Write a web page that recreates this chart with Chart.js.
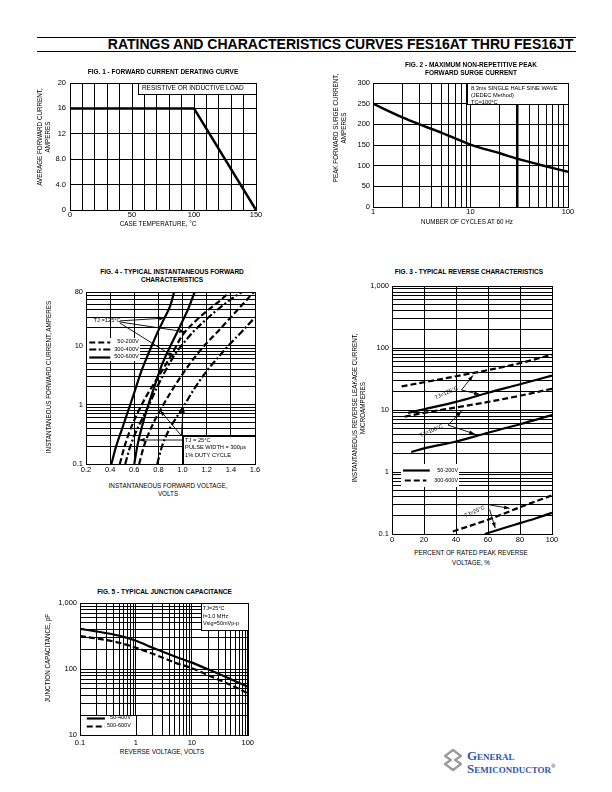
<!DOCTYPE html>
<html><head><meta charset="utf-8">
<script src="https://cdn.jsdelivr.net/npm/chart.js@4/dist/chart.umd.min.js"></script>
<style>
html,body{margin:0;padding:0;background:#fff;}
body{width:612px;height:792px;position:relative;overflow:hidden;font-family:"Liberation Sans",Arial,sans-serif;color:#000;}
canvas{position:absolute;}
.t{position:absolute;white-space:nowrap;transform:translate(-50%,-50%);line-height:1;}
.hl{position:absolute;height:0;border-top:1px solid #000;}
.logo{position:absolute;font-family:"Liberation Serif","Times New Roman",serif;font-weight:bold;font-variant:small-caps;color:#2f55a4;font-size:13px;line-height:1;white-space:nowrap;}
</style></head><body>
<div class="hl" style="left:37px;top:37px;width:539px"></div>
<div class="hl" style="left:37px;top:51px;width:539px"></div>
<svg style="position:absolute;left:442px;top:748px" width="22" height="24" viewBox="0 0 22 24">
<path d="M11 2 L19 8 L13 12 L19 16 L11 22 L3 16 L9 12 L3 8 Z" fill="none" stroke="#9a9a9a" stroke-width="2.2" stroke-linejoin="round"/>
</svg>
<div class="logo" style="left:467px;top:749px">General</div>
<div class="logo" style="left:467px;top:762px">Semiconductor<sup style="font-size:6px">®</sup></div>
<script>
// ================= DATA =================
// Fig. 1 - forward current derating
const fig1TempC = [0, 100, 150];
const fig1CurrentA = [16, 16, 0];
const fig1XLabelVals = [0, 50, 100, 150];
const fig1YLabelVals = [0, 4, 8, 12, 16, 20];
const fig1YLabelText = ['0', '4.0', '8.0', '12', '16', '20'];

// Fig. 2 - max non-repetitive peak forward surge current
const fig2Cycles = [1, 2, 3, 5, 10, 20, 30, 50, 100];
const fig2SurgeA = [250, 217, 200, 180, 151, 130, 117, 103, 85];
const fig2XLabelVals = [1, 10, 100];
const fig2YLabelVals = [0, 50, 100, 150, 200, 250, 300];

// Fig. 4 - typical instantaneous forward characteristics (V, A)
const fig4V_500_600V_125C = [0.41, 0.45, 0.5, 0.55, 0.6, 0.65, 0.7, 0.75, 0.8, 0.85, 0.9, 0.93];
const fig4I_500_600V_125C = [0.1, 0.2, 0.4, 0.8, 1.6, 3.3, 6, 10.5, 18, 29, 48, 80];
const fig4V_500_600V_25C = [0.6, 0.627, 0.66, 0.7, 0.74, 0.78, 0.83, 0.89, 0.95, 1.0, 1.05, 1.1];
const fig4I_500_600V_25C = [0.1, 0.21, 0.4, 0.78, 1.4, 2.45, 4.8, 9, 16, 26, 43, 80];
const fig4V_50_200V_125C = [0.48, 0.52, 0.56, 0.6, 0.65, 0.7, 0.8, 0.9, 1.0, 1.1, 1.2, 1.3, 1.39];
const fig4I_50_200V_125C = [0.1, 0.2, 0.35, 0.55, 0.9, 1.4, 3, 6.5, 15, 25, 38, 55, 80];
const fig4V_300_400V_125C = [0.525, 0.56, 0.6, 0.65, 0.7, 0.8, 0.925, 1.0, 1.1, 1.2, 1.3, 1.4, 1.49];
const fig4I_300_400V_125C = [0.1, 0.18, 0.3, 0.5, 0.8, 2.2, 6.5, 10.5, 18, 28, 42, 60, 80];
const fig4V_50_200V_25C = [0.64, 0.68, 0.72, 0.77, 0.815, 0.9, 1.0, 1.1, 1.2, 1.3, 1.4, 1.5, 1.59];
const fig4I_50_200V_25C = [0.1, 0.2, 0.33, 0.55, 0.81, 1.6, 3.3, 6.3, 11, 18, 30, 50, 80];
const fig4V_300_400V_25C = [0.79, 0.83, 0.88, 0.94, 1.007, 1.1, 1.2, 1.3, 1.4, 1.5, 1.6];
const fig4I_300_400V_25C = [0.1, 0.2, 0.35, 0.57, 0.93, 1.9, 3.7, 6.5, 11, 18, 30];
const fig4XLabelVals = [0.2, 0.4, 0.6, 0.8, 1.0, 1.2, 1.4, 1.6];
const fig4YLabelVals = [0.1, 1, 10, 80];
const fig4YLabelText = ['0.1', '1', '10', '80'];

// Fig. 3 - typical reverse characteristics (% rated voltage, uA)
const fig3Pct_300_600V_125C = [6, 20, 40, 60, 80, 100];
const fig3uA_300_600V_125C = [24, 28, 35, 44, 57, 78];
const fig3Pct_50_200V_125C = [10, 20, 40, 60, 80, 100];
const fig3uA_50_200V_125C = [9, 10.3, 13.5, 19, 26, 36];
const fig3Pct_300_600V_100C = [8, 20, 40, 60, 80, 100];
const fig3uA_300_600V_100C = [7.8, 9, 11, 13.5, 17, 22];
const fig3Pct_50_200V_100C = [12, 20, 40, 60, 80, 100];
const fig3uA_50_200V_100C = [2.1, 2.4, 3.1, 4.3, 5.9, 8.3];
const fig3Pct_300_600V_25C = [38, 60, 80, 100];
const fig3uA_300_600V_25C = [0.11, 0.17, 0.27, 0.42];
const fig3Pct_50_200V_25C = [58, 70, 80, 90, 100];
const fig3uA_50_200V_25C = [0.1, 0.125, 0.15, 0.18, 0.22];
const fig3XLabelVals = [0, 20, 40, 60, 80, 100];
const fig3YLabelVals = [0.1, 1, 10, 100, 1000];
const fig3YLabelText = ['0.1', '1', '10', '100', '1,000'];

// Fig. 5 - typical junction capacitance (V, pF)
const fig5Volts = [0.1, 0.2, 0.5, 1, 2, 5, 10, 20, 50, 100];
const fig5pF_50_400V = [405, 370, 320, 268, 210, 155, 125, 98, 70, 54];
const fig5pF_500_600V = [315, 290, 250, 210, 170, 125, 103, 80, 57, 43];
const fig5XLabelVals = [0.1, 1, 10, 100];
const fig5XLabelText = ['0.1', '1', '10', '100'];
const fig5YLabelVals = [10, 100, 1000];
const fig5YLabelText = ['10', '100', '1,000'];

// ================= HELPERS =================
Chart.defaults.font.family = '"Liberation Sans", Arial, sans-serif';
Chart.defaults.color = '#000';
Chart.defaults.animation = false;

const FONT = '"Liberation Sans", Arial, sans-serif';
const DASH = [6, 3];
const DASHDOT = [7, 2.5, 2, 2.5];

function pts(xs, ys) { return xs.map((x, i) => ({x: x, y: ys[i]})); }
function logGrid(lo, hi) {
  const out = [];
  for (let e = -2; e <= 4; e++) for (let d = 1; d <= 9; d++) {
    const v = +(d * Math.pow(10, e)).toPrecision(6);
    if (v >= lo * 0.9999 && v <= hi * 1.0001) out.push(v);
  }
  return out;
}
function linGrid(lo, hi, step) {
  const out = []; for (let v = lo; v <= hi + step / 1000; v += step) out.push(+v.toFixed(6)); return out;
}
function labeler(vals, texts) {
  return function (v) {
    for (let i = 0; i < vals.length; i++) {
      if (Math.abs(v - vals[i]) <= Math.abs(vals[i]) * 1e-6 + 1e-9) return texts ? texts[i] : String(vals[i]);
    }
    return '';
  };
}
function series(xs, ys, dash, width, straight) {
  return {data: pts(xs, ys), borderColor: '#000', backgroundColor: '#000', borderWidth: width || 2,
    borderDash: dash || [], pointRadius: 0, showLine: true, fill: false,
    tension: straight ? 0 : 0.4, cubicInterpolationMode: straight ? 'default' : 'monotone', borderCapStyle: 'butt'};
}
function scaleOpts(type, min, max, grid, labelFn, pad, gridWidth) {
  return {
    type: type, min: min, max: max,
    afterBuildTicks: s => { s.ticks = grid.map(v => ({value: v})); },
    ticks: {autoSkip: false, maxRotation: 0, minRotation: 0, padding: pad, font: {size: 7.5, lineHeight: 1}, callback: labelFn, color: '#000'},
    grid: {color: '#000', lineWidth: gridWidth || 1, drawTicks: false},
    border: {color: '#000', width: 1}
  };
}
function makeChart(rect, plot, datasets, xs, ys, notes) {
  const c = document.createElement('canvas');
  c.width = rect.w; c.height = rect.h;
  c.style.left = rect.x + 'px'; c.style.top = rect.y + 'px';
  c.style.width = rect.w + 'px'; c.style.height = rect.h + 'px';
  document.body.appendChild(c);
  xs.afterFit = s => { s.height = rect.y + rect.h - plot.b; };
  ys.afterFit = s => { s.width = plot.l - rect.x; };
  return new Chart(c, {
    type: 'scatter',
    data: {datasets: datasets},
    options: {
      responsive: false, animation: false, events: [],
      layout: {padding: {left: 0, bottom: 0, top: plot.t - rect.y, right: rect.x + rect.w - plot.r}},
      plugins: {legend: {display: false}, tooltip: {enabled: false}, title: {display: false}},
      scales: {x: xs, y: ys}
    },
    plugins: [{id: 'notes', afterDatasetsDraw(chart) {
      const ctx = chart.ctx; ctx.save(); notes(chart, ctx); ctx.restore();
      const a = chart.chartArea;
      ctx.save(); ctx.strokeStyle = '#000'; ctx.lineWidth = 1;
      ctx.strokeRect(Math.round(a.left) + 0.5, Math.round(a.top) + 0.5, Math.round(a.right) - Math.round(a.left), Math.round(a.bottom) - Math.round(a.top));
      ctx.restore();
    }}]
  });
}
function P(ch, x, y) { return [ch.scales.x.getPixelForValue(x), ch.scales.y.getPixelForValue(y)]; }
function box(ch, ctx, x1, y1, x2, y2, border) {
  const a = P(ch, x1, y1), b = P(ch, x2, y2);
  const l = Math.round(Math.min(a[0], b[0])), r = Math.round(Math.max(a[0], b[0]));
  const t = Math.round(Math.min(a[1], b[1])), bt = Math.round(Math.max(a[1], b[1]));
  ctx.fillStyle = '#fff'; ctx.fillRect(l + 1, t + 1, r - l - 1, bt - t - 1);
  if (border) { ctx.strokeStyle = '#000'; ctx.lineWidth = 1; ctx.strokeRect(l + 0.5, t + 0.5, r - l, bt - t); }
}
function txt(ch, ctx, s, x, y, size, align, rot) {
  const p = P(ch, x, y);
  ctx.save(); ctx.translate(p[0], p[1]); if (rot) ctx.rotate(rot);
  ctx.fillStyle = '#000'; ctx.font = size + 'px ' + FONT; ctx.textAlign = align || 'left'; ctx.textBaseline = 'middle';
  ctx.fillText(s, 0, 0); ctx.restore();
}
function arrow(ch, ctx, x1, y1, x2, y2) {
  const a = P(ch, x1, y1), b = P(ch, x2, y2);
  ctx.strokeStyle = '#000'; ctx.fillStyle = '#000'; ctx.lineWidth = 0.9; ctx.setLineDash([]);
  ctx.beginPath(); ctx.moveTo(a[0], a[1]); ctx.lineTo(b[0], b[1]); ctx.stroke();
  const ang = Math.atan2(b[1] - a[1], b[0] - a[0]), L = 5.5, W = 2;
  ctx.beginPath(); ctx.moveTo(b[0], b[1]);
  ctx.lineTo(b[0] - L * Math.cos(ang) + W * Math.sin(ang), b[1] - L * Math.sin(ang) - W * Math.cos(ang));
  ctx.lineTo(b[0] - L * Math.cos(ang) - W * Math.sin(ang), b[1] - L * Math.sin(ang) + W * Math.cos(ang));
  ctx.closePath(); ctx.fill();
}
function legLine(ch, ctx, x1, x2, y, dash, w) {
  const a = P(ch, x1, y), b = P(ch, x2, y);
  ctx.strokeStyle = '#000'; ctx.lineWidth = w || 2; ctx.setLineDash(dash || []);
  ctx.beginPath(); ctx.moveTo(a[0], Math.round(a[1]) + 0.5); ctx.lineTo(b[0], Math.round(a[1]) + 0.5); ctx.stroke();
  ctx.setLineDash([]);
}

// ================= FIG. 1 =================
makeChart({x: 30, y: 74, w: 236, h: 156}, {l: 70, t: 83, r: 256, b: 210},
  [series(fig1TempC, fig1CurrentA, [], 2.5, true)],
  scaleOpts('linear', 0, 150, linGrid(0, 150, 10), labeler(fig1XLabelVals), 1),
  scaleOpts('linear', 0, 20, linGrid(0, 20, 4), labeler(fig1YLabelVals, fig1YLabelText), 4),
  (ch, ctx) => {
    box(ch, ctx, 55, 18.3, 150, 20, true);
    txt(ch, ctx, 'RESISTIVE OR INDUCTIVE LOAD', 58, 19.2, 6.5, 'left');
  });

// ================= FIG. 2 =================
const fig2Grid = logGrid(1, 100);
const fig2X = scaleOpts('logarithmic', 1, 100, fig2Grid, labeler(fig2XLabelVals), 1);
fig2X.grid.lineWidth = c => (c.tick && Math.abs(c.tick.value - 30) < 1e-6 ? 2.5 : 1);
makeChart({x: 355, y: 75, w: 223, h: 142}, {l: 373, t: 83, r: 568, b: 207},
  [series(fig2Cycles, fig2SurgeA, [], 2.5)],
  fig2X,
  scaleOpts('linear', 0, 300, linGrid(0, 300, 50), labeler(fig2YLabelVals), 3),
  (ch, ctx) => {
    box(ch, ctx, 9.1, 250, 100, 300, true);
    txt(ch, ctx, '8.3ms SINGLE HALF SINE WAVE', 10.1, 287, 5.7, 'left');
    txt(ch, ctx, '(JEDEC Method)', 10.1, 269, 5.7, 'left');
    txt(ch, ctx, 'TC=100°C', 10.1, 253, 5.7, 'left');
  });

// ================= FIG. 4 =================
makeChart({x: 62, y: 284, w: 203, h: 191}, {l: 86, t: 292, r: 255, b: 464},
  [series(fig4V_500_600V_125C, fig4I_500_600V_125C, [], 2.2),
   series(fig4V_500_600V_25C, fig4I_500_600V_25C, [], 2.2),
   series(fig4V_50_200V_125C, fig4I_50_200V_125C, DASH, 2.2),
   series(fig4V_50_200V_25C, fig4I_50_200V_25C, DASH, 2.2),
   series(fig4V_300_400V_125C, fig4I_300_400V_125C, DASHDOT, 2.2),
   series(fig4V_300_400V_25C, fig4I_300_400V_25C, DASHDOT, 2.2)],
  scaleOpts('linear', 0.2, 1.6, linGrid(0.2, 1.6, 0.2), v => (+v).toFixed(1), 2),
  scaleOpts('logarithmic', 0.1, 80, logGrid(0.1, 80), labeler(fig4YLabelVals, fig4YLabelText), 3),
  (ch, ctx) => {
    box(ch, ctx, 0.2, 5.5, 0.65, 14, false);
    legLine(ch, ctx, 0.227, 0.401, 11.6, DASH, 2.2);
    legLine(ch, ctx, 0.227, 0.401, 8.6, DASHDOT, 2.2);
    legLine(ch, ctx, 0.227, 0.401, 6.5, [], 2.2);
    txt(ch, ctx, '50-200V', 0.638, 11.6, 5.7, 'right');
    txt(ch, ctx, '300-400V', 0.638, 8.6, 5.7, 'right');
    txt(ch, ctx, '500-600V', 0.638, 6.5, 5.7, 'right');
    txt(ch, ctx, 'TJ =125°C', 0.263, 26, 5.7, 'left');
    arrow(ch, ctx, 0.48, 26, 0.852, 29);
    arrow(ch, ctx, 0.48, 25, 1.02, 17);
    arrow(ch, ctx, 0.48, 24, 0.925, 6.5);
    box(ch, ctx, 1.0, 0.1, 1.6, 0.3, true);
    txt(ch, ctx, 'TJ = 25°C', 1.021, 0.254, 5.7, 'left');
    txt(ch, ctx, 'PULSE WIDTH = 300µs', 1.021, 0.191, 5.7, 'left');
    txt(ch, ctx, '1% DUTY CYCLE', 1.021, 0.142, 5.7, 'left');
    arrow(ch, ctx, 1.0, 0.254, 0.64, 0.254);
    arrow(ch, ctx, 0.99, 0.3, 0.815, 0.8);
    arrow(ch, ctx, 0.99, 0.3, 1.005, 0.9);
  });

// ================= FIG. 3 =================
makeChart({x: 368, y: 278, w: 194, h: 267}, {l: 392, t: 286, r: 552, b: 534},
  [series(fig3Pct_300_600V_125C, fig3uA_300_600V_125C, DASH, 2.2),
   series(fig3Pct_50_200V_125C, fig3uA_50_200V_125C, [], 2.2),
   series(fig3Pct_300_600V_100C, fig3uA_300_600V_100C, DASH, 2.2),
   series(fig3Pct_50_200V_100C, fig3uA_50_200V_100C, [], 2.2),
   series(fig3Pct_300_600V_25C, fig3uA_300_600V_25C, DASH, 2.2),
   series(fig3Pct_50_200V_25C, fig3uA_50_200V_25C, [], 2.2)],
  scaleOpts('linear', 0, 100, linGrid(0, 100, 20), labeler(fig3XLabelVals), 2),
  scaleOpts('logarithmic', 0.1, 1000, logGrid(0.1, 1000), labeler(fig3YLabelVals, fig3YLabelText), 3),
  (ch, ctx) => {
    box(ch, ctx, 5, 0.58, 42, 1.4, false);
    legLine(ch, ctx, 6.9, 23.6, 1.077, [], 2.2);
    legLine(ch, ctx, 8, 21.5, 0.734, DASH, 2.2);
    txt(ch, ctx, '50-200V', 41.3, 1.077, 5.5, 'right');
    txt(ch, ctx, '300-600V', 41.3, 0.734, 5.5, 'right');
    txt(ch, ctx, 'TJ=125°C', 34, 18.8, 5.5, 'center', -0.42);
    arrow(ch, ctx, 43.4, 21, 50.6, 36);
    arrow(ch, ctx, 43.4, 21, 54.8, 17.8);
    txt(ch, ctx, 'TJ=100°C', 24.6, 4.6, 5.5, 'center', -0.42);
    arrow(ch, ctx, 35, 5.7, 43.4, 9.6);
    arrow(ch, ctx, 35, 5.7, 51.7, 4.1);
    txt(ch, ctx, 'TJ=25°C', 51.7, 0.229, 5.5, 'center', -0.42);
    arrow(ch, ctx, 61, 0.294, 73.5, 0.26);
    arrow(ch, ctx, 61, 0.25, 64.5, 0.125);
  });

// ================= FIG. 5 =================
makeChart({x: 55, y: 595, w: 203, h: 151}, {l: 80, t: 603, r: 248, b: 735},
  [series(fig5Volts, fig5pF_50_400V, [], 2.2),
   series(fig5Volts, fig5pF_500_600V, DASH, 2.2)],
  scaleOpts('logarithmic', 0.1, 100, logGrid(0.1, 100), labeler(fig5XLabelVals, fig5XLabelText), 4),
  scaleOpts('logarithmic', 10, 1000, logGrid(10, 1000), labeler(fig5YLabelVals, fig5YLabelText), 3),
  (ch, ctx) => {
    box(ch, ctx, 14.4, 386, 100, 1000, true);
    txt(ch, ctx, 'TJ=25°C', 15.8, 822, 5.5, 'left');
    txt(ch, ctx, 'f=1.0 MHz', 15.8, 631, 5.5, 'left');
    txt(ch, ctx, 'Vsig=50mVp-p', 15.8, 489, 5.5, 'left');
    box(ch, ctx, 0.1, 10, 1, 20, true);
    legLine(ch, ctx, 0.132, 0.279, 18.3, [], 2.2);
    legLine(ch, ctx, 0.132, 0.279, 13.7, DASH, 2.2);
    txt(ch, ctx, '50-400V', 0.81, 18.3, 5.5, 'right');
    txt(ch, ctx, '500-600V', 0.81, 13.7, 5.5, 'right');
  });

// ================= TEXT =================
const labels = [
  [340.5, 44, 14, true, false, 'RATINGS AND CHARACTERISTICS CURVES FES16AT THRU FES16JT'],
  [163, 71.5, 6.5, true, false, 'FIG. 1 - FORWARD CURRENT DERATING CURVE'],
  [40, 137, 6.3, false, true, 'AVERAGE FORWARD CURRENT,'],
  [48, 137, 6.3, false, true, 'AMPERES'],
  [158, 224, 6.3, false, false, 'CASE TEMPERATURE, °C'],
  [471, 64.5, 6.5, true, false, 'FIG. 2 - MAXIMUM NON-REPETITIVE PEAK'],
  [471, 72.5, 6.5, true, false, 'FORWARD SURGE CURRENT'],
  [336, 128, 6.3, false, true, 'PEAK FORWARD SURGE CURRENT,'],
  [344, 128, 6.3, false, true, 'AMPERES'],
  [467, 222, 6.3, false, false, 'NUMBER OF CYCLES AT 60 Hz'],
  [172, 271.5, 6.5, true, false, 'FIG. 4 - TYPICAL INSTANTANEOUS FORWARD'],
  [172, 279.5, 6.5, true, false, 'CHARACTERISTICS'],
  [49, 377, 6.3, false, true, 'INSTANTANEOUS FORWARD CURRENT, AMPERES'],
  [168, 486, 6.3, false, false, 'INSTANTANEOUS FORWARD VOLTAGE,'],
  [168, 494, 6.3, false, false, 'VOLTS'],
  [469, 271.5, 6.5, true, false, 'FIG. 3 - TYPICAL REVERSE CHARACTERISTICS'],
  [355, 408, 6.3, false, true, 'INSTANTANEOUS REVERSE LEAKAGE  CURRENT,'],
  [363, 408, 6.3, false, true, 'MICROAMPERES'],
  [471, 552.5, 6.3, false, false, 'PERCENT OF RATED PEAK REVERSE'],
  [471, 562.5, 6.3, false, false, 'VOLTAGE, %'],
  [164.5, 591.5, 6.5, true, false, 'FIG. 5 - TYPICAL JUNCTION CAPACITANCE'],
  [48, 658, 6.3, false, true, 'JUNCTION CAPACITANCE, pF'],
  [162, 752, 6.3, false, false, 'REVERSE VOLTAGE, VOLTS']
];
labels.forEach(l => {
  const d = document.createElement('div');
  d.className = 't';
  d.style.left = l[0] + 'px'; d.style.top = l[1] + 'px'; d.style.fontSize = l[2] + 'px';
  if (l[3]) d.style.fontWeight = 'bold';
  if (l[4]) d.style.transform = 'translate(-50%,-50%) rotate(-90deg)';
  d.textContent = l[5];
  document.body.appendChild(d);
});
</script>
</body></html>
